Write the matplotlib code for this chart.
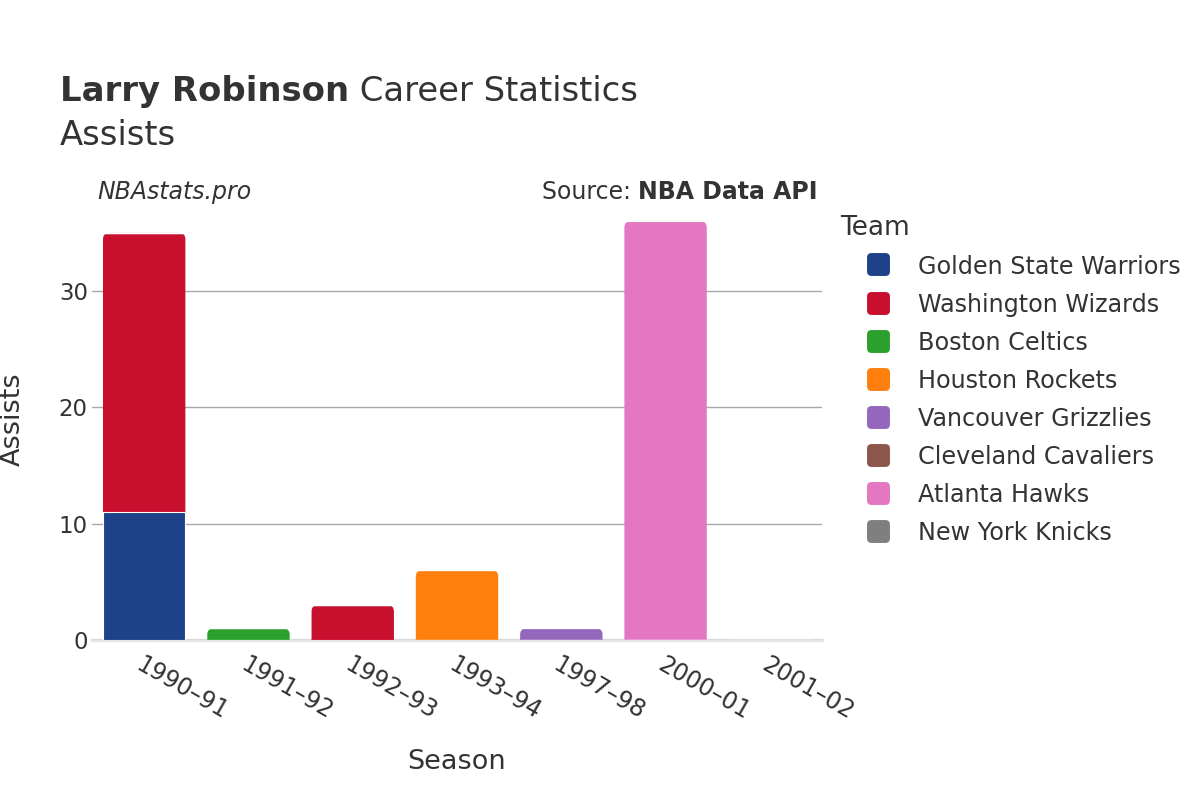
import matplotlib
matplotlib.use("Agg")
import matplotlib.pyplot as plt
from matplotlib.patches import FancyBboxPatch
from matplotlib.lines import Line2D

plt.rcParams['font.family'] = ['DejaVu Sans']

# data
seasons = ["1990–91", "1991–92", "1992–93", "1993–94", "1997–98", "2000–01", "2001–02"]
teams = ["Golden State Warriors", "Washington Wizards", "Boston Celtics", "Houston Rockets",
         "Vancouver Grizzlies", "Cleveland Cavaliers", "Atlanta Hawks", "New York Knicks"]
team_colors = ["#1d428a", "#c8102e", "#2ca02c", "#ff7f0e",
               "#9467bd", "#8c564b", "#e377c2", "#7f7f7f"]
# assists per team, one value per season
assists = {
    "Golden State Warriors": [11, 0, 0, 0, 0, 0, 0],
    "Washington Wizards":    [24, 0, 3, 0, 0, 0, 0],
    "Boston Celtics":        [0, 1, 0, 0, 0, 0, 0],
    "Houston Rockets":       [0, 0, 0, 6, 0, 0, 0],
    "Vancouver Grizzlies":   [0, 0, 0, 0, 1, 0, 0],
    "Cleveland Cavaliers":   [0, 0, 0, 0, 0, 0, 0],
    "Atlanta Hawks":         [0, 0, 0, 0, 0, 36, 0],
    "New York Knicks":       [0, 0, 0, 0, 0, 0, 0],
}
yticks = [0, 10, 20, 30]

TXT = "#333333"

fig = plt.figure(figsize=(12, 8), dpi=100)
ax = fig.add_axes([0.0767, 0.2, 0.6083, 0.551])

x = list(range(len(seasons)))
bottoms = [0] * len(seasons)
top_rect = [None] * len(seasons)
for team, col in zip(teams, team_colors):
    vals = assists[team]
    bars = ax.bar(x, vals, width=0.79, bottom=bottoms, color=col,
                  edgecolor="white", linewidth=0.8, zorder=3)
    for i, (r, v) in enumerate(zip(bars, vals)):
        if v > 0:
            top_rect[i] = (r, col)
    bottoms = [b + v for b, v in zip(bottoms, vals)]

ax.set_xlim(-0.5, len(seasons) - 0.5)
ax.set_ylim(0, 37.9)

# rounded top corners on the highest segment of each column
aspect = (37.9 / 441.0) / (7.0 / 730.0)
rad = 0.06
for item in top_rect:
    if item is None:
        continue
    r, col = item
    r.set_visible(False)
    ext = rad * aspect
    p = FancyBboxPatch((r.get_x(), r.get_y() - ext), r.get_width(), r.get_height() + ext,
                       boxstyle="round,pad=0,rounding_size=%f" % rad,
                       mutation_aspect=aspect, facecolor=col, edgecolor="none",
                       zorder=2.9)
    ax.add_patch(p)

ax.set_yticks(yticks)
ax.yaxis.grid(True, color="#a8a8a8", linewidth=1, zorder=0)
ax.axhline(0, color="#e6e6e6", linewidth=2.5, zorder=1, clip_on=False)
for s in ax.spines.values():
    s.set_visible(False)
ax.tick_params(axis="y", length=0, pad=3, labelsize=16.5, labelcolor=TXT)
ax.tick_params(axis="x", length=0, pad=9, labelsize=17, labelcolor=TXT)
ax.set_xticks(x)
ax.set_xticklabels(seasons, rotation=-30, ha="left", va="top", rotation_mode="anchor")

ax.set_xlabel("Season", fontsize=19.5, color=TXT, labelpad=18)
ax.set_ylabel("Assists", fontsize=19.5, color=TXT, labelpad=24)

# titles
t1 = fig.text(60 / 1200, 1 - 101 / 800, "Larry Robinson", fontsize=24.4,
              fontweight="bold", color=TXT, va="baseline", ha="left")
fig.canvas.draw()
bb = t1.get_window_extent()
fig.text(bb.x1 / 1200, 1 - 101 / 800, " Career Statistics", fontsize=24.4, color=TXT,
         va="baseline", ha="left")
fig.text(60 / 1200, 1 - 145 / 800, "Assists", fontsize=24.4, color=TXT,
         va="baseline", ha="left")

fig.text(97 / 1200, 1 - 199 / 800, "NBAstats.pro", fontsize=17, style="italic",
         color=TXT, va="baseline", ha="left")
src = fig.text(818 / 1200, 1 - 199 / 800, "NBA Data API", fontsize=17,
               fontweight="bold", color=TXT, va="baseline", ha="right")
fig.canvas.draw()
sb = src.get_window_extent()
fig.text(sb.x0 / 1200, 1 - 199 / 800, "Source: ", fontsize=17, color=TXT,
         va="baseline", ha="right")

# legend with rounded square markers
rsq = FancyBboxPatch((-0.5, -0.5), 1, 1, boxstyle="round,pad=0,rounding_size=0.2").get_path()
handles = [Line2D([], [], linestyle="none", marker=rsq, markersize=16.5,
                  markerfacecolor=c, markeredgecolor="none") for c in team_colors]
leg = fig.legend(handles, teams, loc="upper left", bbox_to_anchor=(831 / 1200, 1 - 205 / 800),
                 frameon=False, fontsize=17.2, title="Team", title_fontsize=19,
                 handlelength=3.1, handleheight=0.93, handletextpad=0.15,
                 labelspacing=0.59, borderaxespad=0, alignment="left")
for t in leg.get_texts():
    t.set_color(TXT)
leg.get_title().set_color(TXT)

fig.savefig("out.png", dpi=100, facecolor="white")
